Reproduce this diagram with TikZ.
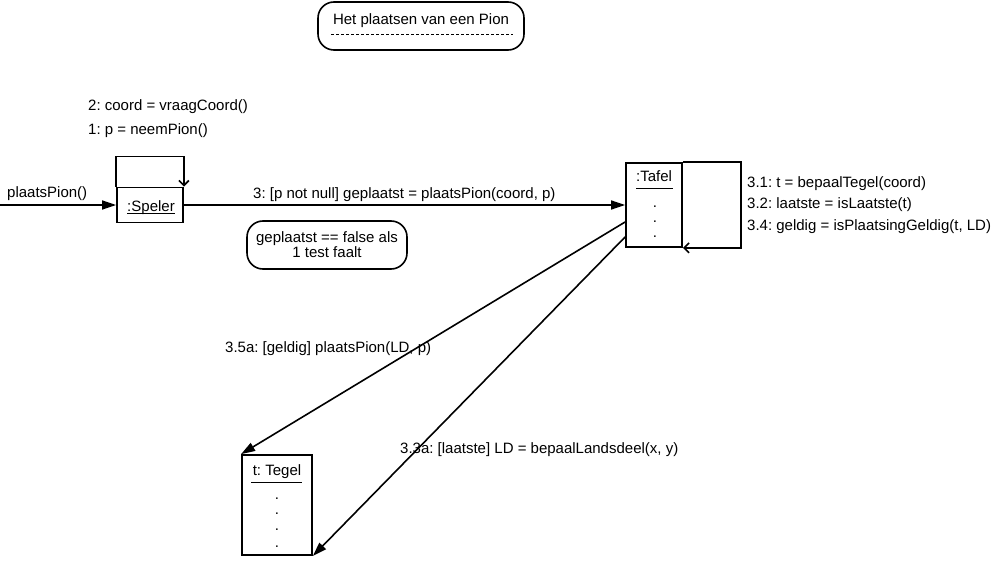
\documentclass[tikz,border=0pt]{standalone}
\usepackage{fontspec}
\setmainfont{Liberation Sans}
\frenchspacing
\usetikzlibrary{arrows.meta,positioning}
\begin{document}
\begin{tikzpicture}[x=1pt,y=-1pt,every node/.style={font=\fontsize{15}{13.5}\selectfont,inner sep=0pt},obj/.style={draw,line width=1.8pt,inner sep=0pt},msg/.style={anchor=base west},call/.style={-{Triangle[length=14pt,width=9pt]},line width=1.6pt},selfcall/.style={-{Straight Barb[length=5pt,width=10pt]},line width=1.6pt},note/.style={draw,line width=1.6pt,rounded corners=16pt,align=center},rule/.style={line width=1pt}]
\useasboundingbox (0,0) rectangle (992,564);
% titel
\node[note,minimum width=206pt,minimum height=48pt] (titel) at (421,26) {};
\node[anchor=base] (titeltekst) at (421,25) {Het plaatsen van een Pion};
\draw[rule,dash pattern=on 3pt off 2pt] (331,35) -- (513,35);
% objecten
\node[obj,minimum width=66pt,minimum height=35pt] (speler) at (150,205) {};
\node[anchor=base] (spelernaam) at (151,211) {:Speler};
\draw[rule] ([yshift=-2pt]spelernaam.base west) -- ([yshift=-2pt]spelernaam.base east);
\node[obj,minimum width=56pt,minimum height=84pt] (tafel) at (654,205) {};
\node[anchor=base] (tafelnaam) at (654,182) {:Tafel};
\draw[rule] (636,188) -- (673,188);
\foreach \d [count=\i] in {207,222,237} \node[anchor=base] (tafelpunt\i) at (655,\d) {.};
\node[obj,minimum width=70pt,minimum height=100pt] (tegel) at (277,505) {};
\node[anchor=base] (tegelnaam) at (277,475) {t: Tegel};
\draw[rule] (251,482) -- (302,482);
\foreach \d [count=\i] in {499,514,530,547} \node[anchor=base] (tegelpunt\i) at (277,\d) {.};
% notitie
\node[note,minimum width=160pt,minimum height=48pt] (notitie) at (327,245) {geplaatst == false als\\1 test faalt};
% berichten
\coordinate (begin) at (0,205);
\draw[call] (begin) -- (speler.west);
\draw[selfcall] (speler.north west) -- ++(0,-30) -| (speler.north east);
\draw[call] (speler.east) -- (tafel.west);
\draw[selfcall] (tafel.north east) -- ++(58,0) |- (tafel.south east);
\draw[call] ([yshift=-17pt]tafel.west) -- (tegel.north west);
\draw[call] ([yshift=-32pt]tafel.west) -- (tegel.south east);
% labels
\node[msg] (m0) at (7,197) {plaatsPion()};
\node[msg] (m2) at (88,111) {2: coord = vraagCoord()};
\node[msg] (m1) at (88,135) {1: p = neemPion()};
\node[msg] (m3) at (253,198) {3: [p not null] geplaatst = plaatsPion(coord, p)};
\node[msg] (m31) at (747,187) {3.1: t = bepaalTegel(coord)};
\node[msg] (m32) at (747,208) {3.2: laatste = isLaatste(t)};
\node[msg] (m34) at (747,230) {3.4: geldig = isPlaatsingGeldig(t, LD)};
\node[msg] (m35) at (225,352) {3.5a: [geldig] plaatsPion(LD, p)};
\node[msg] (m33) at (400,453) {3.3a: [laatste] LD = bepaalLandsdeel(x, y)};
\end{tikzpicture}
\end{document}
